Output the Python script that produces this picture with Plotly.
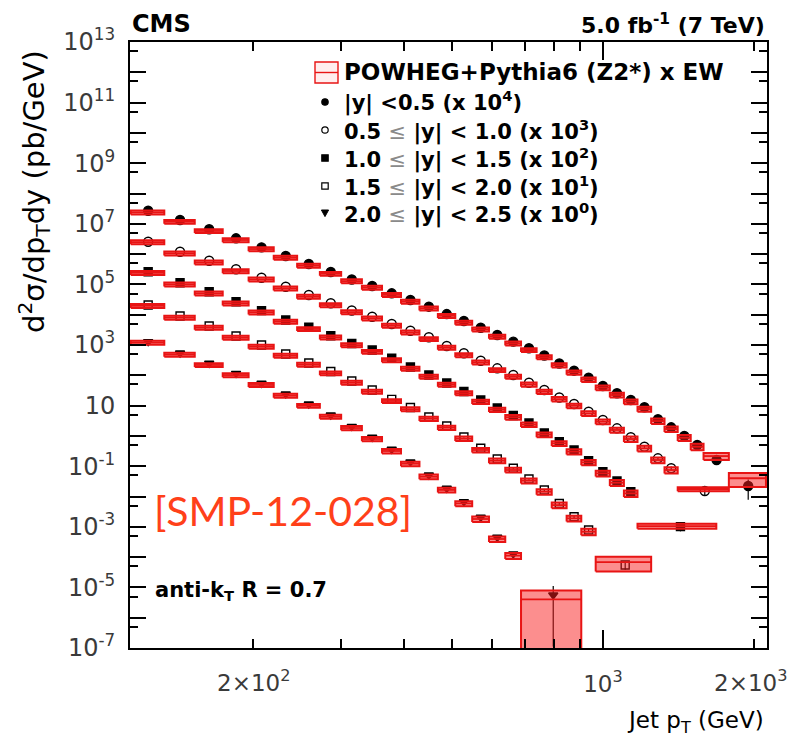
import math
import plotly.graph_objects as go

# ---------------------------------------------------------------------------
# Inclusive jet cross section, anti-kT R = 0.7, 5.0 fb^-1 at 7 TeV
# d2sigma/dpT dy in pb/GeV (unscaled); plotted values are multiplied by the
# factor quoted in each legend entry.
# ---------------------------------------------------------------------------

# Jet pT bin edges (GeV)
pt_edges = [114, 133, 153, 174, 196, 220, 245, 272, 300, 330, 362, 395, 430, 468,
            507, 548, 592, 638, 686, 737, 790, 846, 905, 967, 1032, 1101, 1172,
            1248, 1327, 1410, 1497, 1588]

# binning per rapidity slice (highest bins merged)
edges_y00 = pt_edges + [1784, 2116]
edges_y05 = pt_edges[:30] + [1784]
edges_y10 = pt_edges[:27] + [1684]
edges_y15 = pt_edges[:24] + [1248]
edges_y20 = pt_edges[:19] + [905]

scale_factors = [1e4, 1e3, 1e2, 1e1, 1e0]

# |y| < 0.5
xsec_y00 = [2.70e3, 1.33e3, 659, 332, 167, 86.5, 47.1, 25.6, 14.5, 8.85, 5.08, 3.06,
            1.84, 1.05, 0.619, 0.372, 0.214, 0.129, 7.78e-2, 4.50e-2, 2.45e-2,
            1.42e-2, 8.34e-3, 4.44e-3, 2.55e-3, 1.53e-3, 8.79e-4, 3.53e-4, 1.92e-4,
            9.93e-5, 5.0e-5, 1.60e-5, 2.22e-6]
stat_y00 = [0.01, 0.01, 0.01, 0.01, 0.01, 0.01, 0.01, 0.01, 0.01, 0.01, 0.01, 0.01,
            0.01, 0.01, 0.01, 0.01, 0.01, 0.01, 0.01, 0.01, 0.01, 0.02, 0.02, 0.02,
            0.03, 0.03, 0.04, 0.05, 0.06, 0.08, 0.1, 0.15, 0.65]
pwg_y00 = [2.4e3, 1.17e3, 580, 292, 147, 76, 41.5, 22.5, 12.8, 7.8, 4.5, 2.7, 1.62,
           0.92, 0.545, 0.327, 0.188, 0.113, 6.85e-2, 3.96e-2, 2.16e-2, 1.25e-2,
           7.3e-3, 3.9e-3, 2.24e-3, 1.35e-3, 7.7e-4, 3.1e-4, 1.69e-4, 8.7e-5, 4.4e-5,
           2.16e-5, 4.0e-6]
pwg_unc_y00 = [0.15, 0.15, 0.15, 0.15, 0.15, 0.15, 0.15, 0.15, 0.15, 0.15, 0.15,
               0.15, 0.15, 0.15, 0.15, 0.15, 0.15, 0.15, 0.15, 0.15, 0.16, 0.16,
               0.17, 0.17, 0.18, 0.18, 0.19, 0.2, 0.21, 0.22, 0.24, 0.26, 0.49]

# 0.5 <= |y| < 1.0
xsec_y05 = [2.56e3, 1.20e3, 605, 315, 166, 83.9, 44.7, 23.8, 13.8, 8.59, 4.93, 2.96,
            1.80, 0.927, 0.532, 0.303, 0.170, 0.102, 5.70e-2, 3.27e-2, 1.85e-2,
            1.13e-2, 6.30e-3, 3.35e-3, 1.78e-3, 9.0e-4, 4.4e-4, 1.82e-4, 8.53e-5,
            1.52e-5]
stat_y05 = [0.01, 0.01, 0.01, 0.01, 0.01, 0.01, 0.01, 0.01, 0.01, 0.01, 0.01, 0.01,
            0.01, 0.01, 0.01, 0.01, 0.01, 0.01, 0.02, 0.02, 0.02, 0.03, 0.03, 0.04,
            0.05, 0.06, 0.08, 0.1, 0.15, 0.3]
pwg_y05 = [2.5e3, 1.06e3, 530, 277, 146, 74, 39.3, 20.9, 12.1, 7.6, 4.34, 2.6, 1.58,
           0.816, 0.468, 0.267, 0.150, 9.0e-2, 5.0e-2, 2.88e-2, 1.63e-2, 9.9e-3,
           5.5e-3, 2.95e-3, 1.57e-3, 7.9e-4, 3.9e-4, 1.6e-4, 7.5e-5, 1.77e-5]
pwg_unc_y05 = [0.15, 0.15, 0.15, 0.15, 0.15, 0.15, 0.15, 0.15, 0.15, 0.15, 0.15,
               0.15, 0.15, 0.15, 0.15, 0.15, 0.15, 0.15, 0.16, 0.16, 0.17, 0.17,
               0.18, 0.18, 0.19, 0.2, 0.21, 0.22, 0.24, 0.15]

# 1.0 <= |y| < 1.5
xsec_y10 = [2.62e3, 1.14e3, 574, 269, 136, 66.8, 38.4, 20.3, 11.2, 6.84, 3.64, 1.88,
            1.02, 0.557, 0.292, 0.153, 8.34e-2, 4.71e-2, 2.67e-2, 1.25e-2, 6.44e-3,
            3.43e-3, 1.52e-3, 6.58e-4, 3.25e-4, 1.44e-4, 1.01e-5]
stat_y10 = [0.01, 0.01, 0.01, 0.01, 0.01, 0.01, 0.01, 0.01, 0.01, 0.01, 0.01, 0.01,
            0.01, 0.01, 0.01, 0.02, 0.02, 0.02, 0.03, 0.03, 0.04, 0.05, 0.06, 0.08,
            0.1, 0.15, 0.3]
pwg_y10 = [2.4e3, 1.0e3, 505, 237, 120, 59, 33.8, 17.9, 9.85, 6.0, 3.2, 1.65, 0.9,
           0.49, 0.257, 0.135, 7.3e-2, 4.15e-2, 2.35e-2, 1.1e-2, 5.67e-3, 3.02e-3,
           1.34e-3, 5.8e-4, 2.86e-4, 1.27e-4, 1.06e-5]
pwg_unc_y10 = [0.15, 0.15, 0.15, 0.15, 0.15, 0.15, 0.15, 0.15, 0.15, 0.15, 0.15,
               0.15, 0.15, 0.15, 0.15, 0.16, 0.16, 0.17, 0.17, 0.18, 0.18, 0.19,
               0.2, 0.21, 0.22, 0.24, 0.18]

# 1.5 <= |y| < 2.0
xsec_y15 = [2.09e3, 906, 424, 198, 100, 50.5, 25.5, 13.3, 6.49, 3.27, 1.61, 0.865,
            0.421, 0.212, 9.2e-2, 3.9e-2, 1.73e-2, 8.53e-3, 3.78e-3, 1.64e-3,
            5.87e-4, 2.15e-4, 7.84e-5, 5.48e-6]
stat_y15 = [0.01, 0.01, 0.01, 0.01, 0.01, 0.01, 0.01, 0.01, 0.01, 0.01, 0.01, 0.02,
            0.02, 0.02, 0.03, 0.03, 0.04, 0.05, 0.06, 0.08, 0.1, 0.12, 0.15, 0.3]
pwg_y15 = [1.95e3, 800, 373, 174, 88, 44.4, 22.4, 11.7, 5.7, 2.88, 1.42, 0.76, 0.37,
           0.187, 8.1e-2, 3.43e-2, 1.52e-2, 7.5e-3, 3.33e-3, 1.44e-3, 5.2e-4, 1.9e-4,
           6.9e-5, 6.8e-6]
pwg_unc_y15 = [0.15, 0.15, 0.15, 0.15, 0.15, 0.15, 0.15, 0.15, 0.15, 0.15, 0.15,
               0.15, 0.16, 0.16, 0.17, 0.17, 0.18, 0.18, 0.19, 0.2, 0.21, 0.22,
               0.24, 0.51]

# 2.0 <= |y| < 2.5
xsec_y20 = [1.29e3, 545, 249, 116, 54.5, 24.2, 11.3, 4.90, 2.07, 0.90, 0.361, 0.138,
            5.13e-2, 1.87e-2, 6.73e-3, 2.06e-3, 4.50e-4, 1.27e-4, 5.61e-6]
stat_y20 = [0.01, 0.01, 0.01, 0.01, 0.01, 0.01, 0.01, 0.02, 0.02, 0.02, 0.03, 0.03,
            0.04, 0.05, 0.06, 0.08, 0.1, 0.15, 0.98]
pwg_y20 = [1.2e3, 480, 219, 102, 48, 21.3, 9.9, 4.3, 1.82, 0.79, 0.318, 0.121, 4.5e-2,
           1.65e-2, 5.9e-3, 1.81e-3, 3.96e-4, 1.12e-4, 4.0e-6]
pwg_unc_y20 = [0.15, 0.15, 0.15, 0.15, 0.15, 0.15, 0.15, 0.15, 0.16, 0.16, 0.17,
               0.17, 0.18, 0.18, 0.19, 0.2, 0.21, 0.22, 0.99]

legend_labels = [
    "|y| <0.5 (x 10<sup>4</sup>)",
    "0.5 {le} |y| < 1.0 (x 10<sup>3</sup>)",
    "1.0 {le} |y| < 1.5 (x 10<sup>2</sup>)",
    "1.5 {le} |y| < 2.0 (x 10<sup>1</sup>)",
    "2.0 {le} |y| < 2.5 (x 10<sup>0</sup>)",
]
theory_label = "POWHEG+Pythia6 (Z2*) x EW"

# y-axis decades and x-axis tick positions
y_decades = list(range(-7, 14))
x_major = [1000]
x_minor = [200, 300, 400, 500, 600, 700, 800, 900, 2000]
x_extra_labels = [(200, "2\u00d710<sup>2</sup>"), (2000, "2\u00d710<sup>3</sup>")]

# ---------------------------------------------------------------------------
slices = [
    dict(edges=edges_y00, xsec=xsec_y00, stat=stat_y00, pwg=pwg_y00, unc=pwg_unc_y00,
         symbol="circle", size=9),
    dict(edges=edges_y05, xsec=xsec_y05, stat=stat_y05, pwg=pwg_y05, unc=pwg_unc_y05,
         symbol="circle-open", size=9),
    dict(edges=edges_y10, xsec=xsec_y10, stat=stat_y10, pwg=pwg_y10, unc=pwg_unc_y10,
         symbol="square", size=8),
    dict(edges=edges_y15, xsec=xsec_y15, stat=stat_y15, pwg=pwg_y15, unc=pwg_unc_y15,
         symbol="square-open", size=8),
    dict(edges=edges_y20, xsec=xsec_y20, stat=stat_y20, pwg=pwg_y20, unc=pwg_unc_y20,
         symbol="triangle-down", size=8),
]

RED = "rgb(232,20,20)"
FONT = "DejaVu Sans"

fig = go.Figure()

# measured points
for sl, scale in zip(slices, scale_factors):
    lo, hi = sl["edges"][:-1], sl["edges"][1:]
    centers = [(a + b) / 2 for a, b in zip(lo, hi)]
    vals = [v * scale for v in sl["xsec"]]
    errs = [v * r for v, r in zip(vals, sl["stat"])]
    fig.add_trace(go.Scatter(
        x=centers, y=vals, mode="markers",
        marker=dict(symbol=sl["symbol"], size=sl["size"], color="black",
                    line=dict(color="black", width=1.4)),
        error_y=dict(type="data", array=errs, symmetric=True, color="black",
                     thickness=1.2, width=0),
        hoverinfo="skip"))

# POWHEG+Pythia6 x EW prediction: uncertainty boxes and central value per bin
for sl, scale in zip(slices, scale_factors):
    bx, by, cx, cy = [], [], [], []
    for a, b, t, u in zip(sl["edges"][:-1], sl["edges"][1:], sl["pwg"], sl["unc"]):
        t = t * scale
        bx += [a, b, b, a, a, None]
        by += [t * (1 - u), t * (1 - u), t * (1 + u), t * (1 + u), t * (1 - u), None]
        cx += [a, b, None]
        cy += [t, t, None]
    fig.add_trace(go.Scatter(x=bx, y=by, mode="lines", fill="toself",
                             fillcolor="rgba(250,30,30,0.5)",
                             line=dict(color=RED, width=2.0), hoverinfo="skip"))
    fig.add_trace(go.Scatter(x=cx, y=cy, mode="lines",
                             line=dict(color=RED, width=1.8), hoverinfo="skip"))

# ---------------------------------------------------------------------------
# frame geometry (pixels) used for placing text and legend items
L, R, T, B = 130, 767, 42, 648


def fx(xp):
    return (xp - L) / (R - L)


def fy(yp):
    return (B - yp) / (B - T)


annotations = []


def text(x, y, s, size, xanchor="left", color="black", family=FONT, angle=0,
         xref="paper"):
    annotations.append(dict(x=x, y=y, xref=xref, yref="paper", text=s,
                            showarrow=False, xanchor=xanchor, yanchor="middle",
                            textangle=angle,
                            font=dict(family=family, size=size, color=color)))


text(fx(130), fy(24), "<b>CMS</b>", 24)
text(fx(767), fy(24), "<b>5.0 fb<sup>-1</sup> (7 TeV)</b>", 22, xanchor="right")
text(fx(34), fy(192), "d<sup>2</sup>\u03c3/dp<sub>T</sub>dy (pb/GeV)", 29,
     xanchor="center", angle=-90)
text(fx(766), fy(722), "Jet p<sub>T</sub> (GeV)", 23, xanchor="right")
text(fx(152), fy(510), "[SMP-12-028]", 41, color="#ff4019", family="Lato")
text(fx(153), fy(591), "<b>anti-k<sub>T</sub> R = 0.7</b>", 21)
label_shift = {200: 0.0, 2000: -0.006}
for xv, lab in x_extra_labels:
    text(math.log10(xv) + label_shift[xv], fy(681), lab, 23, xanchor="center",
         color="#3a3a3a", xref="x")

# legend
shapes = []
LEG_X, TEXT_X = 325, 342
rows = [102, 130, 158, 186, 213]
text(fx(TEXT_X), fy(72), "<b>%s</b>" % theory_label, 23)
shapes.append(dict(type="rect", xref="paper", yref="paper",
                   x0=fx(315), x1=fx(338), y0=fy(62), y1=fy(83),
                   line=dict(color=RED, width=1.4), fillcolor="rgba(255,40,40,0.08)"))
shapes.append(dict(type="line", xref="paper", yref="paper",
                   x0=fx(315), x1=fx(338), y0=fy(72.5), y1=fy(72.5),
                   line=dict(color=RED, width=1.4)))
le = '</b><span style="color:#8a8a8a">\u2264</span><b>'
for lab, yr, sl in zip(legend_labels, rows, slices):
    text(fx(TEXT_X), fy(yr), "<b>%s</b>" % lab.format(le=le), 21)
    sym = sl["symbol"]
    filled = "open" not in sym
    fill = "black" if filled else "white"
    r = 3.2
    if sym.startswith("circle"):
        shapes.append(dict(type="circle", xref="paper", yref="paper",
                           x0=fx(LEG_X - r), x1=fx(LEG_X + r),
                           y0=fy(yr + r), y1=fy(yr - r), fillcolor=fill,
                           line=dict(color="black", width=1.2)))
    elif sym.startswith("square"):
        shapes.append(dict(type="rect", xref="paper", yref="paper",
                           x0=fx(LEG_X - r), x1=fx(LEG_X + r),
                           y0=fy(yr + r), y1=fy(yr - r), fillcolor=fill,
                           line=dict(color="black", width=1.2)))
    else:
        pts = [(LEG_X - 3.6, yr - 3), (LEG_X + 3.6, yr - 3), (LEG_X, yr + 3.6)]
        path = "M%f,%f L%f,%f L%f,%f Z" % tuple(
            c for p in pts for c in (fx(p[0]), fy(p[1])))
        shapes.append(dict(type="path", xref="paper", yref="paper", path=path,
                           fillcolor="black", line=dict(color="black", width=1)))

y_ticktext = []
for k in y_decades:
    if k % 2 == 0:
        y_ticktext.append("")
    elif k == 1:
        y_ticktext.append("10")
    else:
        y_ticktext.append("10<sup>%d</sup>" % k)

fig.update_layout(
    width=790, height=744,
    margin=dict(l=L, r=790 - R, t=T, b=744 - B, pad=0),
    paper_bgcolor="white", plot_bgcolor="white", showlegend=False,
    font=dict(family=FONT, color="black"),
    annotations=annotations, shapes=shapes,
)
fig.update_xaxes(
    type="log", range=[math.log10(113.6), math.log10(2126)],
    showline=True, linecolor="black", linewidth=2, mirror="allticks",
    ticks="inside", ticklen=18, tickwidth=1.8, tickcolor="black",
    tickvals=x_major, ticktext=["10<sup>3</sup>"],
    tickfont=dict(family=FONT, size=23, color="#3a3a3a"), ticklabelstandoff=14,
    showgrid=False, zeroline=False,
    minor=dict(tickvals=x_minor, ticks="inside", ticklen=9, tickwidth=1.8,
               tickcolor="black", showgrid=False),
)
fig.update_yaxes(
    type="log", range=[-7, 13],
    showline=True, linecolor="black", linewidth=2, mirror="allticks",
    ticks="inside", ticklen=16, tickwidth=1.8, tickcolor="black",
    tickvals=[10.0 ** k for k in y_decades], ticktext=y_ticktext,
    tickfont=dict(family=FONT, size=24, color="#3a3a3a"), ticklabelstandoff=8,
    showgrid=False, zeroline=False,
    minor=dict(tickvals=[5 * 10.0 ** k for k in y_decades[:-1]], ticks="inside",
               ticklen=8, tickwidth=1.8, tickcolor="black", showgrid=False),
)

fig.write_html("out.html")
